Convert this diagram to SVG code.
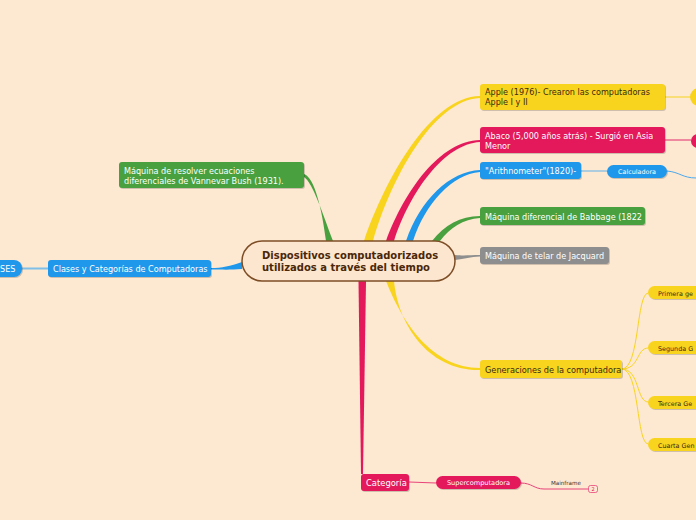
<svg xmlns="http://www.w3.org/2000/svg" width="696" height="520" viewBox="0 0 696 520">
<defs>
<style>
.t{font-family:"DejaVu Sans","Verdana",sans-serif;font-size:8.1px}
.w{fill:#ffffff}
.d{fill:#3a2a10}
.sh{fill:#000;opacity:0.18}
.y{fill:#f9d41f}
.p{fill:#e3195c}
.b{fill:#1f97ea}
.g{fill:#48a13e}
.gr{fill:#8e8e8e}
.ln{fill:none;stroke-linecap:round}
</style>
</defs>
<rect width="696" height="520" fill="#fde8d2"/>
<g id="connectors">
<path class="g" d="M326,241 C322,210 315,178 304,174 L304,177 C313,183 322,212 333,241 Z"/>
<path class="y" d="M364,241 C385,180 430,97 480,96 L480,98 C432,100 390,182 373,241 Z"/>
<path class="p" d="M386,241 C405,190 440,141 480,140 L480,142 C444,144 410,192 394,241 Z"/>
<path class="b" d="M406,241 C420,200 450,171 480,170 L480,172 C452,174 425,204 413,241 Z"/>
<path class="g" d="M432,241 C445,225 460,216 480,216 L480,218 C463,219 450,228 440,241 Z"/>
<path class="gr" d="M455,255 C465,256 470,255 480,255 L480,256.5 C470,257 465,259 455,260 Z"/>
<path class="y" d="M386,281 C402,322 432,368 480,368 L480,370 C428,371 398,324 394,281 Z"/>
<path class="p" d="M358.5,281 L366,281 L363,474 L361,474 Z"/>
<path class="b" d="M242,262 C230,266 222,268 211,268 L211,269.5 C222,269.5 230,270 242,269 Z"/>
<path class="ln" d="M22,268.5 L48,268.5" stroke="#7fbfe8" stroke-width="2"/>
<path class="ln" d="M665,97 L690,97" stroke="#f7d95a" stroke-width="1.5"/>
<path class="ln" d="M665,140 L691,140" stroke="#ea6a8e" stroke-width="1.5"/>
<path class="ln" d="M581,171 L607,171" stroke="#5fb2ec" stroke-width="1.2"/>
<path class="ln" d="M667,171 C680,172 682,178 696,178" stroke="#4aa8eb" stroke-width="1"/>
<path class="ln" d="M622,369 C640,369 636,293 648,293 M622,369 C640,369 636,348 648,348 M622,369 C640,369 636,402 648,402 M622,369 C640,369 636,444 648,444" stroke="#f9d41f" stroke-width="1"/>
<path class="ln" d="M409,482 L436,483" stroke="#e8457a" stroke-width="1.2"/>
<path class="ln" d="M521,483 C532,483 534,489 544,489 L588,489" stroke="#e8457a" stroke-width="1"/>
</g>
<g id="central">
<rect x="242" y="241" width="213" height="40" rx="20" fill="#fde6d0" stroke="#7d4e26" stroke-width="1.5"/>
<text x="262" y="259" style="font-family:'DejaVu Sans',sans-serif;font-size:10px;font-weight:bold" fill="#4a2708">Dispositivos computadorizados</text>
<text x="262" y="271" style="font-family:'DejaVu Sans',sans-serif;font-size:10px;font-weight:bold" fill="#4a2708">utilizados a través del tiempo</text>
</g>
<g id="vannevar">
<rect x="120" y="163" width="185" height="26" rx="3" class="sh"/>
<rect x="119" y="162" width="185" height="26" rx="3" class="g"/>
<text x="124" y="174" class="t w">Máquina de resolver ecuaciones</text>
<text x="124" y="183.5" class="t w">diferenciales de Vannevar Bush (1931).</text>
</g>
<g id="clases">
<rect x="49" y="261" width="163" height="17" rx="3" class="sh"/>
<rect x="48" y="260" width="163" height="17" rx="3" class="b"/>
<text x="53" y="271.5" class="t w">Clases y Categorías de Computadoras</text>
</g>
<g id="ses">
<rect x="-40" y="261" width="63" height="17" rx="8" class="sh"/>
<rect x="-40" y="260" width="62" height="17" rx="8" class="b"/>
<text x="0" y="271.5" class="t w">SES</text>
</g>
<g id="apple">
<rect x="481" y="85" width="185" height="26" rx="3" class="sh"/>
<rect x="480" y="84" width="185" height="26" rx="3" class="y"/>
<text x="485" y="95" class="t d">Apple (1976)- Crearon las computadoras</text>
<text x="485" y="105" class="t d">Apple I y II</text>
</g>
<g id="apple-child">
<rect x="690" y="88" width="30" height="18" rx="9" class="y"/>
</g>
<g id="abaco">
<rect x="481" y="128" width="185" height="26" rx="3" class="sh"/>
<rect x="480" y="127" width="185" height="26" rx="3" class="p"/>
<text x="485" y="139" class="t w">Abaco (5,000 años atrás) - Surgió en Asia</text>
<text x="485" y="149" class="t w">Menor</text>
</g>
<g id="abaco-child">
<rect x="691" y="134" width="30" height="14" rx="7" class="p"/>
</g>
<g id="arithnometer">
<rect x="481" y="163" width="101" height="17" rx="3" class="sh"/>
<rect x="480" y="162" width="101" height="17" rx="3" class="b"/>
<text x="485" y="173.5" class="t w">"Arithnometer"(1820)-</text>
</g>
<g id="calculadora">
<rect x="608" y="166" width="60" height="13" rx="6.5" class="sh"/>
<rect x="607" y="165" width="60" height="13" rx="6.5" class="b"/>
<text x="637" y="173.8" text-anchor="middle" class="t w" style="font-size:6.4px">Calculadora</text>
</g>
<g id="babbage">
<rect x="481" y="208" width="165" height="18" rx="3" class="sh"/>
<rect x="480" y="207" width="165" height="18" rx="3" class="g"/>
<text x="485" y="219.5" class="t w">Máquina diferencial de Babbage (1822</text>
</g>
<g id="jacquard">
<rect x="481" y="248" width="129" height="17" rx="3" class="sh"/>
<rect x="480" y="247" width="129" height="17" rx="3" class="gr"/>
<text x="485" y="258.5" class="t w">Máquina de telar de Jacquard</text>
</g>
<g id="generaciones">
<rect x="481" y="361" width="142" height="18" rx="3" class="sh"/>
<rect x="480" y="360" width="142" height="18" rx="3" class="y"/>
<text x="485" y="372.5" class="t d" style="font-size:8.2px">Generaciones de la computadora</text>
</g>
<g id="primera">
<rect x="649" y="287" width="60" height="13" rx="6.5" class="sh"/>
<rect x="648" y="286" width="60" height="13" rx="6.5" class="y"/>
<text x="658" y="295.5" class="t d" style="font-size:6.4px">Primera ge</text>
</g>
<g id="segunda">
<rect x="649" y="342" width="60" height="13" rx="6.5" class="sh"/>
<rect x="648" y="341" width="60" height="13" rx="6.5" class="y"/>
<text x="658" y="350.5" class="t d" style="font-size:6.4px">Segunda G</text>
</g>
<g id="tercera">
<rect x="649" y="397" width="60" height="13" rx="6.5" class="sh"/>
<rect x="648" y="396" width="60" height="13" rx="6.5" class="y"/>
<text x="658" y="405.5" class="t d" style="font-size:6.4px">Tercera Ge</text>
</g>
<g id="cuarta">
<rect x="649" y="439" width="60" height="13" rx="6.5" class="sh"/>
<rect x="648" y="438" width="60" height="13" rx="6.5" class="y"/>
<text x="658" y="447.5" class="t d" style="font-size:6.4px">Cuarta Gen</text>
</g>
<g id="categoria">
<rect x="362" y="475" width="48" height="17" rx="3" class="sh"/>
<rect x="361" y="474" width="48" height="17" rx="3" class="p"/>
<text x="366" y="486" class="t w" style="font-size:8.4px">Categoría</text>
</g>
<g id="supercomputadora">
<rect x="437" y="477" width="85" height="13" rx="6.5" class="sh"/>
<rect x="436" y="476" width="85" height="13" rx="6.5" class="p"/>
<text x="478.5" y="485" text-anchor="middle" class="t w" style="font-size:6.6px">Supercomputadora</text>
</g>
<g id="mainframe">
<text x="551" y="485" class="t" style="font-size:5.6px" fill="#333">Mainframe</text>
<rect x="588.5" y="485.5" width="9" height="7" rx="2" fill="#fde8d2" stroke="#e8457a" stroke-width="0.8"/>
<text x="593" y="491.3" text-anchor="middle" class="t" style="font-size:5px" fill="#e3195c">2</text>
</g>
</svg>
